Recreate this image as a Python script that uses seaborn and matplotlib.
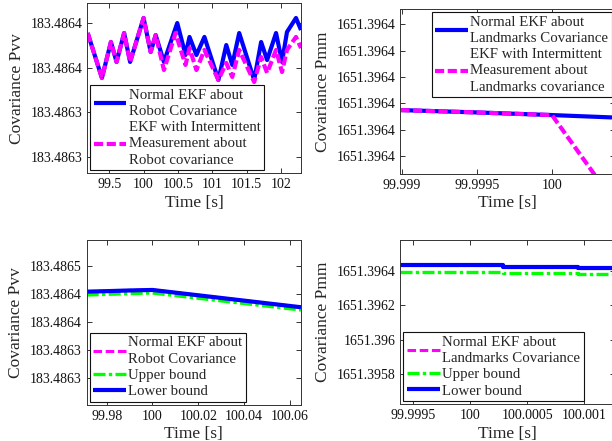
import numpy as np
import pandas as pd
import matplotlib
matplotlib.use("Agg")
import matplotlib.pyplot as plt
import seaborn as sns

# ---------------- data ----------------
# Top-left: robot covariance Pvv
tl_time_normal = [99.187, 99.394, 99.525, 99.607, 99.717, 99.804, 100.0, 100.103, 100.176,
                  100.296, 100.49, 100.61, 100.668, 100.769, 100.885, 101.088, 101.203, 101.29,
                  101.391, 101.609, 101.71, 101.797, 101.927, 102.014, 102.086, 102.217, 102.29]
tl_pvv_normal = [183.4864108, 183.4863707, 183.4864028, 183.4863850, 183.4864108, 183.4863850,
                 183.4864242, 183.4863939, 183.4864090, 183.4863850, 183.4864197, 183.4863912,
                 183.4864073, 183.4863912, 183.4864073, 183.4863689, 183.4864001, 183.4863823,
                 183.4864108, 183.4863689, 183.4864028, 183.4863867, 183.4864108, 183.4863850,
                 183.4864117, 183.4864242, 183.4864135]
tl_time_interm = [99.187, 99.394, 99.525, 99.607, 99.717, 99.804, 100.0, 100.103, 100.176,
                  100.296, 100.465, 100.61, 100.668, 100.769, 100.885, 101.088, 101.203, 101.29,
                  101.391, 101.609, 101.71, 101.797, 101.927, 102.014, 102.086, 102.217, 102.29]
tl_pvv_interm = [183.4864108, 183.4863707, 183.4864028, 183.4863850, 183.4864108, 183.4863850,
                 183.4864242, 183.4863939, 183.4864090, 183.4863778, 183.4864108, 183.4863823,
                 183.4863974, 183.4863778, 183.4863957, 183.4863689, 183.4863841, 183.4863716,
                 183.4863957, 183.4863671, 183.4863894, 183.4863752, 183.4863957, 183.4863760,
                 183.4863957, 183.4864073, 183.4863974]
tl_yticks = [183.48630, 183.48634, 183.48638, 183.48642]
tl_yticklabels = ['183.4863', '183.4863', '183.4864', '183.4864']
tl_xticks = [99.5, 100, 100.5, 101, 101.5, 102]
tl_xticklabels = ['99.5', '100', '100.5', '101', '101.5', '102']

# Top-right: landmark covariance Pmm
tr_time = [99.99899, 99.9995, 100.0, 100.0004]
tr_pmm_normal = [1651.3963974, 1651.3963965, 1651.3963955, 1651.3963946]
tr_pmm_interm = [1651.3963974, 1651.3963965, 1651.3963955, 1651.3963636]
tr_yticks = [1651.39638, 1651.39639, 1651.39640, 1651.39641, 1651.39642, 1651.39643]
tr_yticklabels = ['1651.3964'] * 6
tr_xticks = [99.999, 99.9995, 100.0]
tr_xticklabels = ['99.999', '99.9995', '100']

# Bottom-left: robot covariance with bounds
bl_time = [99.9713, 99.98, 99.99, 100.0, 100.0648]
bl_pvv_normal = [183.4864233, 183.4864240, 183.4864250, 183.4864257, 183.4864011]
bl_pvv_upper = [183.4864186, 183.4864195, 183.4864205, 183.4864214, 183.4863972]
bl_pvv_lower = [183.4864233, 183.4864240, 183.4864250, 183.4864257, 183.4864011]
bl_yticks = [183.48630, 183.48634, 183.48638, 183.48642, 183.48646]
bl_yticklabels = ['183.4863', '183.4863', '183.4864', '183.4864', '183.4865']
bl_xticks = [99.98, 100, 100.02, 100.04, 100.06]
bl_xticklabels = ['99.98', '100', '100.02', '100.04', '100.06']

# Bottom-right: landmark covariance with bounds
br_time = [99.99939, 100.000287, 100.000942, 100.00127]
br_pmm_normal = [1651.396433, 1651.396423, 1651.396417, 1651.396417]
br_pmm_upper = [1651.396391, 1651.396385, 1651.396379, 1651.396379]
br_pmm_lower = [1651.396433, 1651.396423, 1651.396417, 1651.396417]
br_yticks = [1651.3958, 1651.396, 1651.3962, 1651.3964]
br_yticklabels = ['1651.3958', '1651.396', '1651.3962', '1651.3964']
br_xticks = [99.9995, 100, 100.0005, 100.001]
br_xticklabels = ['99.9995', '100', '100.0005', '100.001']

# ---------------- style ----------------
sns.set_theme(style="white")
plt.rcParams['font.family'] = ['Liberation Serif', 'DejaVu Serif']
plt.rcParams['axes.edgecolor'] = '#222222'
plt.rcParams['axes.linewidth'] = 0.7
plt.rcParams['axes.unicode_minus'] = False

BLUE = '#0000ff'
MAG = '#ff00ff'
GREEN = '#00ff00'
DASH = (0, (2.2, 0.85))
DASH_THIN = (0, (2.8, 1.2))
DASHDOT = (0, (3.6, 1.0, 1.0, 1.0))

fig = plt.figure(figsize=(6.12, 4.41), dpi=100)
W, H = 612.0, 441.0


def make_ax(left, top, right, bottom):
    return fig.add_axes([left / W, 1 - bottom / H, (right - left) / W, (bottom - top) / H])


ax_tl = make_ax(87, 3.3, 301, 173.3)
ax_tr = make_ax(400.3, 9.3, 615, 174)
ax_bl = make_ax(86.7, 240, 301, 405)
ax_br = make_ax(400.3, 240, 615, 404.3)


def line(ax, x, y, color, lw, ls, label, steps=False):
    df = pd.DataFrame({'t': x, 'v': y})
    sns.lineplot(data=df, x='t', y='v', ax=ax, color=color, linewidth=lw,
                 sort=False, estimator=None, label=label,
                 drawstyle='steps-post' if steps else 'default')
    ln = ax.lines[-1]
    ln.set_linestyle(ls)
    ln.set_solid_capstyle('butt')
    ln.set_dash_capstyle('butt')
    return ln


# top-left
line(ax_tl, tl_time_normal, tl_pvv_normal, BLUE, 3.0, '-', 'Normal EKF about\nRobot Covariance')
line(ax_tl, tl_time_interm, tl_pvv_interm, MAG, 3.0, DASH,
     'EKF with Intermittent\nMeasurement about\nRobot covariance')
ax_tl.set_xlim(99.177, 102.29)
ax_tl.set_ylim(183.4862857, 183.4864373)
ax_tl.set_yticks(tl_yticks)
ax_tl.set_yticklabels(tl_yticklabels)
ax_tl.set_xticks(tl_xticks)
ax_tl.set_xticklabels(tl_xticklabels)
ax_tl.set_ylabel('Covariance Pvv')

# top-right
line(ax_tr, tr_time, tr_pmm_normal, BLUE, 3.0, '-', 'Normal EKF about\nLandmarks Covariance')
line(ax_tr, tr_time, tr_pmm_interm, MAG, 3.0, DASH,
     'EKF with Intermittent\nMeasurement about\nLandmarks covariance')
ax_tr.set_xlim(99.99899, 100.00042)
ax_tr.set_ylim(1651.3963731, 1651.3964357)
ax_tr.set_yticks(tr_yticks)
ax_tr.set_yticklabels(tr_yticklabels)
ax_tr.set_xticks(tr_xticks)
ax_tr.set_xticklabels(tr_xticklabels)
ax_tr.set_ylabel('Covariance Pmm')

# bottom-left
line(ax_bl, bl_time, bl_pvv_normal, MAG, 2.2, DASH_THIN, 'Normal EKF about\nRobot Covariance')
line(ax_bl, bl_time, bl_pvv_upper, GREEN, 2.4, DASHDOT, 'Upper bound')
line(ax_bl, bl_time, bl_pvv_lower, BLUE, 3.0, '-', 'Lower bound')
ax_bl.set_xlim(99.9713, 100.0648)
ax_bl.set_ylim(183.486262, 183.4864968)
ax_bl.set_yticks(bl_yticks)
ax_bl.set_yticklabels(bl_yticklabels)
ax_bl.set_xticks(bl_xticks)
ax_bl.set_xticklabels(bl_xticklabels)
ax_bl.set_ylabel('Covariance Pvv')

# bottom-right
line(ax_br, br_time, br_pmm_normal, MAG, 2.2, DASH_THIN, 'Normal EKF about\nLandmarks Covariance', steps=True)
line(ax_br, br_time, br_pmm_upper, GREEN, 2.4, DASHDOT, 'Upper bound', steps=True)
line(ax_br, br_time, br_pmm_lower, BLUE, 3.0, '-', 'Lower bound', steps=True)
ax_br.set_xlim(99.999392, 100.001268)
ax_br.set_ylim(1651.395624, 1651.396578)
ax_br.set_yticks(br_yticks)
ax_br.set_yticklabels(br_yticklabels)
ax_br.set_xticks(br_xticks)
ax_br.set_xticklabels(br_xticklabels)
ax_br.set_ylabel('Covariance Pmm')

legend_locs = {ax_tl: 'lower left', ax_tr: 'upper right', ax_bl: 'lower left', ax_br: 'lower left'}
for ax in (ax_tl, ax_tr, ax_bl, ax_br):
    ax.set_xlabel('Time [s]', fontsize=12.5, labelpad=2.5)
    ax.yaxis.label.set_fontsize(12.5)
    ax.yaxis.labelpad = 4
    ax.tick_params(direction='in', length=3.5, width=0.6, top=True, right=True,
                   labelsize=10, pad=3.5, colors='#111111', labelcolor='#111111',
                   bottom=True, left=True)
    for s in ax.spines.values():
        s.set_visible(True)
        s.set_color('#333333')
    ax.set_facecolor('white')
    leg = ax.legend(loc=legend_locs[ax], fontsize=10.7, frameon=True, fancybox=False,
                    edgecolor='#111111', framealpha=1.0, borderaxespad=0.2,
                    handlelength=2.2, handletextpad=0.15, labelspacing=0.2,
                    borderpad=0.25)
    for t in leg.get_texts():
        t.set_linespacing(1.32)
    leg.get_frame().set_linewidth(0.8)

fig.savefig('out.png', dpi=100, facecolor='white')
